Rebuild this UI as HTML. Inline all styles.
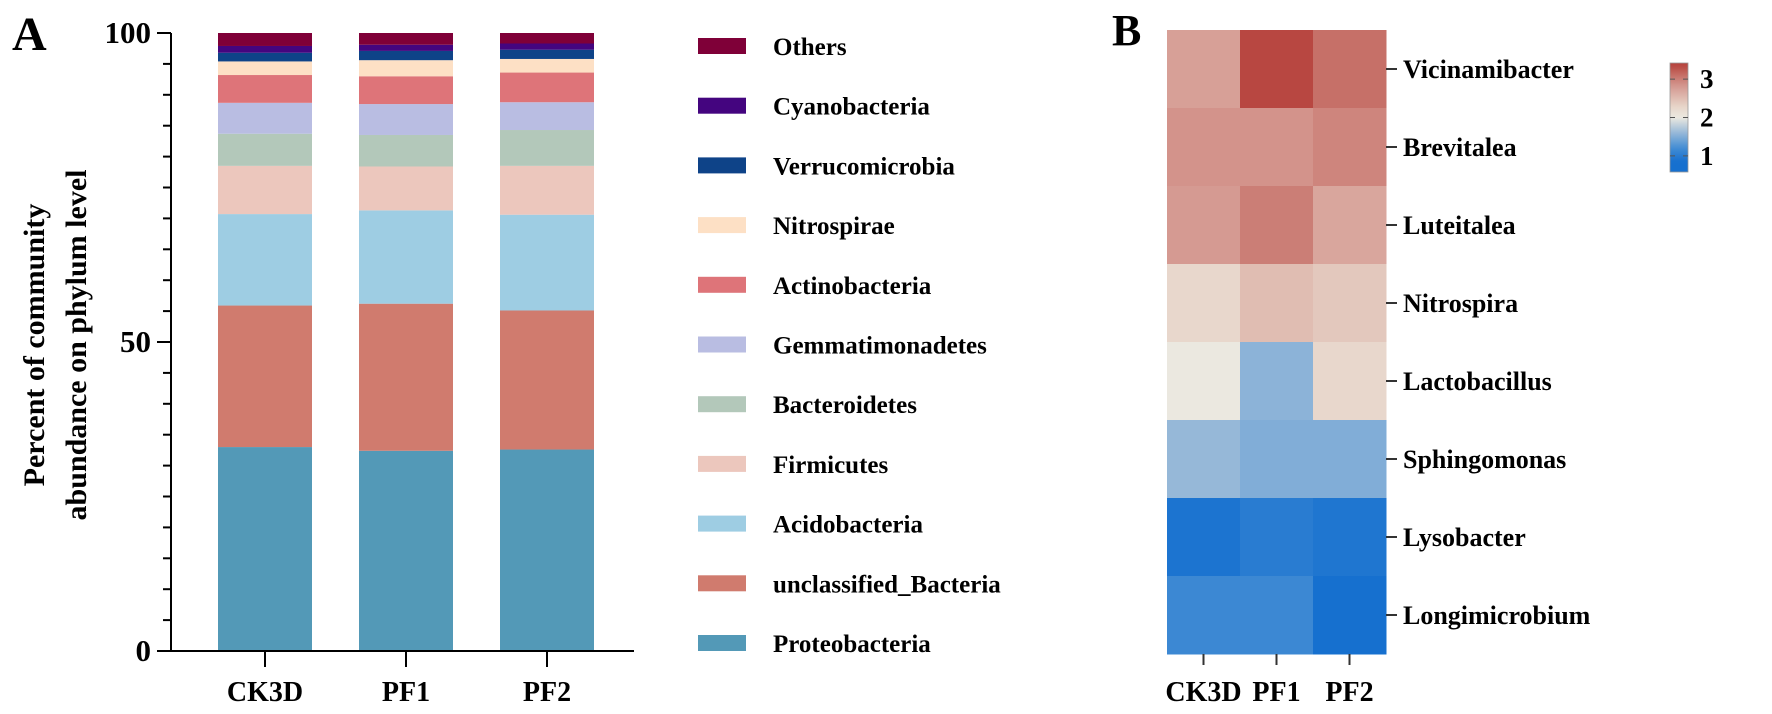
<!DOCTYPE html>
<html><head><meta charset="utf-8">
<style>
html,body{margin:0;padding:0;background:#fff;}
svg{display:block;font-family:"Liberation Serif",serif;font-weight:bold;}
</style></head>
<body>
<svg id="fig" width="1772" height="714" viewBox="0 0 1772 714" xmlns="http://www.w3.org/2000/svg">
<text x="12" y="50" font-size="48">A</text>
<text x="1112" y="45" font-size="44">B</text>
<g transform="translate(44,345) rotate(-90)">
<text x="0" y="0" font-size="30" text-anchor="middle">Percent of community</text>
<text x="0" y="42" font-size="30" text-anchor="middle">abundance on phylum level</text>
</g>
<g id="barG"></g><g id="legG"></g><g id="heatG"></g><g id="cbG"></g>
</svg>
<script>
const NS="http://www.w3.org/2000/svg";
const samples=["CK3D","PF1","PF2"];
const phyla=["Proteobacteria","unclassified_Bacteria","Acidobacteria","Firmicutes","Bacteroidetes","Gemmatimonadetes","Actinobacteria","Nitrospirae","Verrucomicrobia","Cyanobacteria","Others"];
const valsCK3D=[33.0,22.9,14.8,7.8,5.2,5.0,4.5,2.2,1.4,1.1,2.1];
const valsPF1=[32.4,23.8,15.1,7.1,5.1,5.0,4.5,2.6,1.5,1.0,1.9];
const valsPF2=[32.6,22.5,15.5,7.9,5.8,4.5,4.8,2.2,1.5,1.0,1.7];
const yTicks=[0,50,100];
const genera=["Vicinamibacter","Brevitalea","Luteitalea","Nitrospira","Lactobacillus","Sphingomonas","Lysobacter","Longimicrobium"];
const heatCK3D=[2.75,2.85,2.8,2.25,2.0,1.6,0.9,1.15];
const heatPF1=[3.35,2.85,3.0,2.5,1.55,1.5,1.0,1.15];
const heatPF2=[3.1,2.95,2.7,2.4,2.25,1.5,0.92,0.85];
const cbTicks=[1,2,3];

const colors=["#5399b7","#d07b6e","#9ecde3","#ecc7bd","#b3c8ba","#b9bde2","#de7479","#fde0c5","#0e4388","#44057f","#7f0038"];
function el(tag,attrs,parent){const e=document.createElementNS(NS,tag);for(const k in attrs)e.setAttribute(k,attrs[k]);parent.appendChild(e);return e;}

// Panel A
const barG=document.getElementById('barG');
const axX=171,y0=651,y100=33;
const yS=v=>y0-(v/100)*(y0-y100);
const xC=i=>265+i*141;
const bw=94;
const allVals=[valsCK3D,valsPF1,valsPF2];
allVals.forEach((vals,si)=>{
  let cum=0;
  vals.forEach((v,pi)=>{
    const r=el('rect',{x:xC(si)-bw/2,y:yS(cum+v),width:bw,height:yS(cum)-yS(cum+v),fill:colors[pi]},barG);
    
    
    cum+=v;
  });
  const t=el('line',{x1:xC(si),x2:xC(si),y1:y0,y2:y0+16,stroke:"#000","stroke-width":2},barG);
  
  
  const tx=el('text',{x:xC(si),y:701,"font-size":28,"text-anchor":"middle"},barG);
  tx.textContent=samples[si];
  
  
});
const yax=el('line',{x1:axX,x2:axX,y1:y100,y2:y0,stroke:"#000","stroke-width":2},barG);


const xax=el('line',{x1:axX-14,x2:634,y1:y0,y2:y0,stroke:"#000","stroke-width":2},barG);


for(let v=0;v<=100;v+=5){
  const major=v%50===0;
  const m=el('line',{x1:axX-(major?14:8),x2:axX,y1:yS(v),y2:yS(v),stroke:"#000","stroke-width":2},barG);
  
  
}
yTicks.forEach(v=>{
  const t=el('text',{x:axX-20,y:yS(v)+10,"font-size":31,"text-anchor":"end"},barG);
  t.textContent=v;
  
  
});
// legend
const legG=document.getElementById('legG');
for(let i=phyla.length-1;i>=0;i--){
  const row=phyla.length-1-i;
  const cy=46+row*59.7;
  const g=el('g',{},legG);
  
  
  el('rect',{x:698,y:cy-8,width:48,height:16,fill:colors[i]},g);
  const t=el('text',{x:773,y:cy+9,"font-size":25},g);
  t.textContent=phyla[i];
}

// Panel B heatmap
const heatG=document.getElementById('heatG');
const hx0=1167,hx1=1386,hy0=30,hy1=654;
const cw=(hx1-hx0)/3,rh=(hy1-hy0)/genera.length;
const stops=[[0.85,[22,112,207]],[1.2,[66,140,212]],[1.6,[150,184,216]],[2.0,[235,232,224]],[2.3,[231,212,200]],[2.8,[213,154,146]],[3.1,[198,112,104]],[3.39,[182,65,59]]];
function cmap(v){
  if(v<=stops[0][0])return 'rgb('+stops[0][1]+')';
  for(let i=1;i<stops.length;i++){
    if(v<=stops[i][0]){const a=stops[i-1],b=stops[i];const t=(v-a[0])/(b[0]-a[0]);
      return 'rgb('+a[1].map((c,k)=>Math.round(c+(b[1][k]-c)*t)).join(',')+')';}
  }
  return 'rgb('+stops[stops.length-1][1]+')';
}
const heat=[heatCK3D,heatPF1,heatPF2];
heat.forEach((col,ci)=>{
  col.forEach((v,ri)=>{
    const r=el('rect',{x:hx0+ci*cw,y:hy0+ri*rh,width:cw+0.5,height:rh+0.5,fill:cmap(v)},heatG);
    
    
  });
  const tk=el('line',{x1:hx0+(ci+0.5)*cw,x2:hx0+(ci+0.5)*cw,y1:hy1,y2:hy1+11,stroke:"#333","stroke-width":2},heatG);
  
  
  const t=el('text',{x:hx0+(ci+0.5)*cw,y:701,"font-size":28,"text-anchor":"middle"},heatG);
  t.textContent=samples[ci];
  
  
});
genera.forEach((g,ri)=>{
  const cy=hy0+(ri+0.5)*rh;
  const tk=el('line',{x1:hx1,x2:hx1+11,y1:cy,y2:cy,stroke:"#333","stroke-width":2},heatG);
  
  
  const t=el('text',{x:1403,y:cy+9,"font-size":26},heatG);
  t.textContent=g;
  
  
});
// colorbar
const cbG=document.getElementById('cbG');
const cbx=1670,cbw=18,cbTop=63,cbBot=172,cbMin=0.58,cbMax=3.42;
const cbY=v=>cbBot-(v-cbMin)/(cbMax-cbMin)*(cbBot-cbTop);
const defs=el('defs',{},cbG);
const grad=el('linearGradient',{id:'cbgrad',x1:0,y1:1,x2:0,y2:0},defs);
for(let i=0;i<=20;i++){const v=cbMin+(cbMax-cbMin)*i/20;el('stop',{offset:(i/20),"stop-color":cmap(v)},grad);}
const cb=el('rect',{x:cbx,y:cbTop,width:cbw,height:cbBot-cbTop,fill:"url(#cbgrad)",stroke:"#999","stroke-width":0.8},cbG);


cbTicks.forEach(v=>{
  el('line',{x1:cbx,x2:cbx+cbw,y1:cbY(v),y2:cbY(v),stroke:"#555","stroke-width":1,"stroke-dasharray":"5,8"},cbG);
  const t=el('text',{x:1700,y:cbY(v)+9,"font-size":27},cbG);
  t.textContent=v;
  
  
});
</script>
</body></html>
